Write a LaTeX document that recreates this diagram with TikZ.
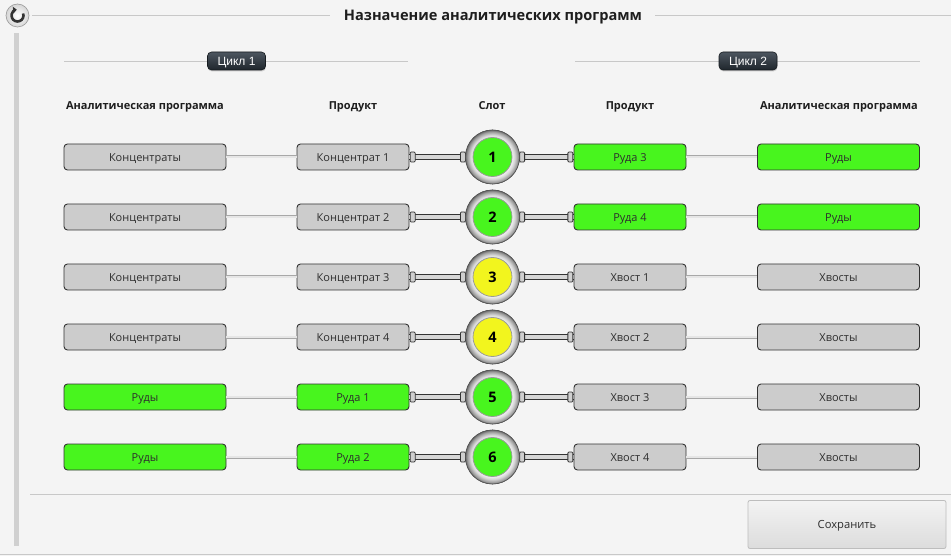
\documentclass[tikz,border=0pt]{standalone}
\usepackage{fontspec}
\setmainfont{Open Sans}
\newfontfamily\badgefont{Liberation Sans}
\usetikzlibrary{shadows,arrows.meta}

\definecolor{bg}{HTML}{F4F4F4}
\definecolor{grn}{HTML}{48F51E}
\definecolor{ylw}{HTML}{F2F51E}
\definecolor{gbox}{HTML}{CCCCCC}
\definecolor{edgec}{HTML}{333333}
\definecolor{txtc}{HTML}{2E2E2E}
\definecolor{hdr}{HTML}{1E1E1E}
\definecolor{sepc}{HTML}{C8C8C8}
\definecolor{linkout}{HTML}{A8A8A8}
\definecolor{linkin}{HTML}{E6E6E6}
\definecolor{pipein}{HTML}{D6D6D6}
\definecolor{capc}{HTML}{CFCFCF}
\definecolor{ringA}{HTML}{F2F2F2}
\definecolor{ringB}{HTML}{D6D6D6}
\definecolor{ringC}{HTML}{9A9A9A}
\definecolor{ringD}{HTML}{6A6A6A}
\definecolor{badgeT}{HTML}{4D5660}
\definecolor{badgeB}{HTML}{1F262C}
\definecolor{btnT}{HTML}{F3F3F3}
\definecolor{btnB}{HTML}{DCDCDC}
\definecolor{btnE}{HTML}{BDBDBD}
\definecolor{barc}{HTML}{D0D0D0}

\pgfdeclareradialshading{slotring}{\pgfpoint{0bp}{0bp}}{%
  color(0bp)=(ringA); color(18bp)=(ringA); color(20.5bp)=(ringB);
  color(23.5bp)=(ringC); color(25bp)=(ringD); color(50bp)=(ringD)}

\tikzset{
  box/.style={draw=edgec, line width=0.9pt, rounded corners=3.5pt,
    minimum height=26pt, inner sep=0pt, text=txtc, text height=8.6pt, text depth=0pt,
    font=\fontsize{11}{13}\selectfont},
  prog/.style={box, minimum width=162pt},
  prod/.style={box, minimum width=112pt},
  gr/.style={fill=gbox},
  gn/.style={fill=grn},
  link/.style={draw=linkout, line width=0.9pt, double=linkin, double distance=1.2pt},
  pipe/.style={draw=edgec, line width=0.9pt, double=pipein, double distance=4.6pt},
  capbox/.style={draw=edgec, line width=0.8pt, fill=capc, rounded corners=1pt,
    minimum width=5pt, minimum height=10pt, inner sep=0pt},
  ring/.style={circle, draw=ringD!80!black, line width=0.6pt, shading=slotring,
    minimum size=54pt, inner sep=0pt},
  slotin/.style={circle, draw=ringC, line width=0.8pt, minimum size=39pt,
    inner sep=0pt, font=\bfseries\fontsize{14.5}{16}\selectfont, text=black},
  header/.style={font=\bfseries\fontsize{11}{13}\selectfont, text=hdr,
    text height=8.2pt, text depth=0pt, inner sep=0pt},
  badge/.style={draw=badgeB!70!black, line width=0.6pt, rounded corners=4pt,
    top color=badgeT, bottom color=badgeB, text=white, minimum width=58pt,
    minimum height=18pt, inner sep=0pt, text height=8.4pt, text depth=0pt,
    font=\badgefont\fontsize{12}{14}\selectfont,
    drop shadow={opacity=0.35, shadow xshift=0.4pt, shadow yshift=-1.4pt}},
  sep/.style={draw=sepc, line width=0.9pt},
}

\begin{document}
\begin{tikzpicture}[x=1pt, y=-1pt]
  \useasboundingbox (0,0) rectangle (951,556);
  \fill[bg] (0,0) rectangle (951,556);

  % frame lines
  \draw[sep] (32,15) -- (330,15);
  \draw[sep] (655,15) -- (951,15);
  \node[font=\bfseries\fontsize{14.6}{17}\selectfont, text=hdr, fill=bg,
        text height=10pt, text depth=0pt, inner sep=0pt] (title) at (493,16)
    {Назначение аналитических программ};
  \fill[barc] (14,33) rectangle (19,546);
  \draw[sep] (30,494) -- (951,494);
  \draw[sep] (0,554.5) -- (951,554.5);

  % refresh icon
  \node[circle, minimum size=23pt, inner sep=0pt, draw=ringC, line width=0.6pt,
        inner color=white, outer color=ringB] (refr) at (17.5,15.5) {};
  \draw[edgec, line width=2.6pt, -{Triangle[length=3.5pt,width=6.5pt]}]
    ([shift={(-20:6)}]refr.center) arc[start angle=-20, end angle=262, radius=6];

  % cycle lines and badges
  \draw[sep] (64,61) -- (408,61);
  \draw[sep] (575,61) -- (920,61);
  \node[badge] (c1) at (236.5,61) {Цикл 1};
  \node[badge] (c2) at (748,61) {Цикл 2};

  % headers
  \node[header] (h1) at (145,105.5) {Аналитическая программа};
  \node[header] (h2) at (353,105.5) {Продукт};
  \node[header] (h3) at (492,105.5) {Слот};
  \node[header] (h4) at (630,105.5) {Продукт};
  \node[header] (h5) at (839,105.5) {Аналитическая программа};

  % rows
  \foreach \i/\lpc/\lp/\lqc/\lq/\sc/\rqc/\rq/\rpc/\rp in {
      1/gr/Концентраты/gr/Концентрат 1/grn/gn/Руда 3/gn/Руды,
      2/gr/Концентраты/gr/Концентрат 2/grn/gn/Руда 4/gn/Руды,
      3/gr/Концентраты/gr/Концентрат 3/ylw/gr/Хвост 1/gr/Хвосты,
      4/gr/Концентраты/gr/Концентрат 4/ylw/gr/Хвост 2/gr/Хвосты,
      5/gn/Руды/gn/Руда 1/grn/gr/Хвост 3/gr/Хвосты,
      6/gn/Руды/gn/Руда 2/grn/gr/Хвост 4/gr/Хвосты} {
    \pgfmathsetmacro{\yy}{97+60*\i}
    \node[prog, \lpc] (lp\i) at (145,\yy) {\lp};
    \node[prod, \lqc] (lq\i) at (353,\yy) {\lq};
    \node[prod, \rqc] (rq\i) at (630,\yy) {\rq};
    \node[prog, \rpc] (rp\i) at (838.5,\yy) {\rp};
    \node[ring] (s\i) at (492.5,\yy) {};
    \draw[link] (lp\i.east) -- (lq\i.west);
    \draw[link] (rq\i.east) -- (rp\i.west);
    \draw[pipe] (lq\i.east) -- (s\i.west);
    \draw[pipe] (s\i.east) -- (rq\i.west);
    \node[capbox, anchor=west] (lca\i) at ([xshift=0.3pt]lq\i.east) {};
    \node[capbox, anchor=east] (lcb\i) at ([xshift=0.6pt]s\i.west) {};
    \node[capbox, anchor=west] (rca\i) at ([xshift=-0.6pt]s\i.east) {};
    \node[capbox, anchor=east] (rcb\i) at ([xshift=-0.3pt]rq\i.west) {};
    \node[ring] (sr\i) at (s\i) {};
    \node[slotin, fill=\sc] (sn\i) at (s\i) {\i};
  }

  % save button
  \node[draw=btnE, line width=0.8pt, rounded corners=2pt, top color=btnT,
        bottom color=btnB, minimum width=198pt, minimum height=48pt,
        inner sep=0pt, text=txtc, text height=8.4pt, text depth=0pt,
        font=\fontsize{11.2}{13}\selectfont]
        (save) at (847,524.5) {Сохранить};
\end{tikzpicture}
\end{document}
